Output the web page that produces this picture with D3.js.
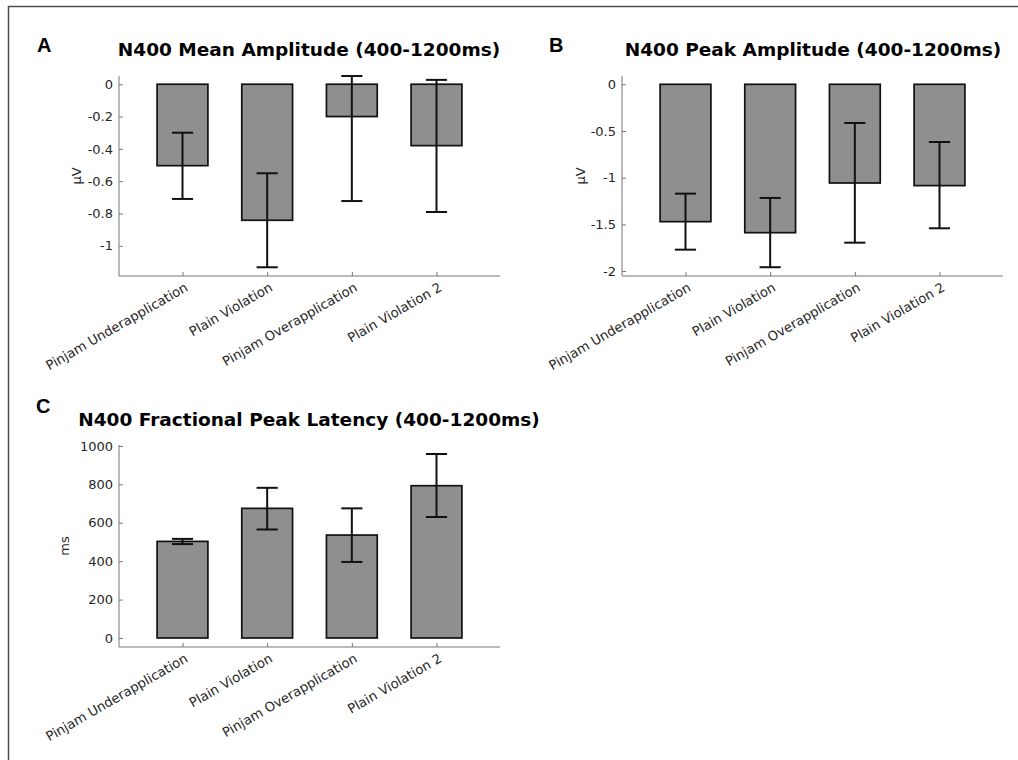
<!DOCTYPE html>
<html>
<head>
<meta charset="utf-8">
<script src="https://cdn.jsdelivr.net/npm/d3@7"></script>
<style>
  body { margin: 0; background: #fff; }
  text { font-family: "DejaVu Sans", sans-serif; }
</style>
</head>
<body>
<svg id="fig" width="1018" height="760"></svg>
<script>
// data
const conditions = ["Pinjam Underapplication", "Plain Violation", "Pinjam Overapplication", "Plain Violation 2"];

const meanAmp = [-0.504, -0.842, -0.200, -0.380];
const meanAmpUpper = [-0.300, -0.551, 0.051, 0.027];
const meanAmpLower = [-0.710, -1.133, -0.723, -0.791];
const meanAmpTicks = [-1, -0.8, -0.6, -0.4, -0.2, 0];

const peakAmp = [-1.471, -1.589, -1.057, -1.085];
const peakAmpUpper = [-1.171, -1.217, -0.414, -0.618];
const peakAmpLower = [-1.771, -1.959, -1.696, -1.542];
const peakAmpTicks = [-2, -1.5, -1, -0.5, 0];

const latency = [503, 675, 536, 793];
const latencyUpper = [516, 782, 675, 958];
const latencyLower = [489, 565, 396, 630];
const latencyTicks = [0, 200, 400, 600, 800, 1000];

const svg = d3.select("#fig");

// outer frame (runs off the right/bottom edge like the source)
svg.append("path")
    .attr("d", "M8.5,760 L8.5,6.5 L1018,6.5")
    .attr("fill", "none")
    .attr("stroke", "#4d4d4d")
    .attr("stroke-width", 1.5);

function drawPanel(p) {
    const g = svg.append("g");

    // x positions in category units (1..4), xlim like matlab
    const x = d3.scaleLinear().domain([0.25, 4.75]).range([p.left, p.right]);
    const y = d3.scaleLinear().domain(p.yDomain).range([p.bottom, p.top]);

    // axes
    const yAxis = d3.axisRight(y).tickValues(p.ticks).tickSize(4).tickFormat(d3.format("~g"));
    const yg = g.append("g").attr("transform", `translate(${p.left},0)`).call(yAxis);
    yg.select(".domain").attr("d", `M0,${p.top}V${p.bottom}`).attr("stroke", "#777");
    yg.selectAll(".tick line").attr("stroke", "#777");
    yg.selectAll(".tick text")
        .attr("x", -6)
        .attr("text-anchor", "end")
        .attr("fill", "#262626")
        .style("font-size", "13px")
        .text((d) => d3.format("~g")(d).replace("−", "-"));

    const xAxis = d3.axisTop(x).tickValues([1, 2, 3, 4]).tickSize(4).tickFormat("");
    const xg = g.append("g").attr("transform", `translate(0,${p.bottom})`).call(xAxis);
    xg.select(".domain").attr("d", `M${p.left},0H${p.right}`).attr("stroke", "#777");
    xg.selectAll(".tick line").attr("stroke", "#777");

    // rotated category labels
    g.selectAll(".cat")
        .data(conditions)
        .enter()
        .append("text")
        .attr("class", "cat")
        .attr("transform", (d, i) => `translate(${x(i + 1) + 4},${p.bottom + 10}) rotate(-30)`)
        .attr("text-anchor", "end")
        .attr("dy", "0.35em")
        .attr("fill", "#262626")
        .style("font-size", "13.2px")
        .text((d) => d);

    // bars
    g.selectAll(".bar")
        .data(p.values)
        .enter()
        .append("rect")
        .attr("x", (d, i) => x(i + 1 - 0.3))
        .attr("width", x(1.6) - x(1))
        .attr("y", (d) => Math.min(y(d), y(0)))
        .attr("height", (d) => Math.abs(y(d) - y(0)))
        .attr("fill", "#8f8f8f")
        .attr("stroke", "#111")
        .attr("stroke-width", 1.7);

    // error bars
    const err = g.selectAll(".err").data(p.values).enter().append("g");
    err.append("line")
        .attr("x1", (d, i) => x(i + 1))
        .attr("x2", (d, i) => x(i + 1))
        .attr("y1", (d, i) => y(p.upper[i]))
        .attr("y2", (d, i) => y(p.lower[i]));
    err.append("line")
        .attr("x1", (d, i) => x(i + 1 - 0.125))
        .attr("x2", (d, i) => x(i + 1 + 0.125))
        .attr("y1", (d, i) => y(p.upper[i]))
        .attr("y2", (d, i) => y(p.upper[i]));
    err.append("line")
        .attr("x1", (d, i) => x(i + 1 - 0.125))
        .attr("x2", (d, i) => x(i + 1 + 0.125))
        .attr("y1", (d, i) => y(p.lower[i]))
        .attr("y2", (d, i) => y(p.lower[i]));
    err.selectAll("line").attr("stroke", "#111").attr("stroke-width", 2);

    // y label
    g.append("text")
        .attr("transform", `translate(${p.ylabelX},${(p.top + p.bottom) / 2}) rotate(-90)`)
        .attr("text-anchor", "middle")
        .attr("fill", "#262626")
        .style("font-size", "13px")
        .text(p.ylabel);

    // title
    g.append("text")
        .attr("x", p.titleX)
        .attr("y", p.titleY)
        .attr("text-anchor", "middle")
        .attr("fill", "#000")
        .style("font-size", "18.5px")
        .style("font-weight", "bold")
        .text(p.title);

    // panel letter
    g.append("text")
        .attr("x", p.letterX)
        .attr("y", p.letterY)
        .attr("fill", "#000")
        .style("font-family", "'Liberation Sans', Arial, sans-serif")
        .style("font-size", "20px")
        .style("font-weight", "bold")
        .text(p.letter);
}

drawPanel({
    letter: "A", letterX: 37, letterY: 52,
    title: "N400 Mean Amplitude (400-1200ms)", titleX: 309, titleY: 56,
    left: 119, right: 500, top: 76, bottom: 276,
    yDomain: [-1.187, 0.051], ticks: meanAmpTicks,
    values: meanAmp, upper: meanAmpUpper, lower: meanAmpLower,
    ylabel: "μV", ylabelX: 81
});

drawPanel({
    letter: "B", letterX: 549, letterY: 52,
    title: "N400 Peak Amplitude (400-1200ms)", titleX: 813, titleY: 56,
    left: 622, right: 1003, top: 76, bottom: 276,
    yDomain: [-2.053, 0.089], ticks: peakAmpTicks,
    values: peakAmp, upper: peakAmpUpper, lower: peakAmpLower,
    ylabel: "μV", ylabelX: 585
});

drawPanel({
    letter: "C", letterX: 36, letterY: 413,
    title: "N400 Fractional Peak Latency (400-1200ms)", titleX: 309, titleY: 426,
    left: 119, right: 500, top: 445, bottom: 647,
    yDomain: [-47, 1005], ticks: latencyTicks,
    values: latency, upper: latencyUpper, lower: latencyLower,
    ylabel: "ms", ylabelX: 69
});
</script>
</body>
</html>
